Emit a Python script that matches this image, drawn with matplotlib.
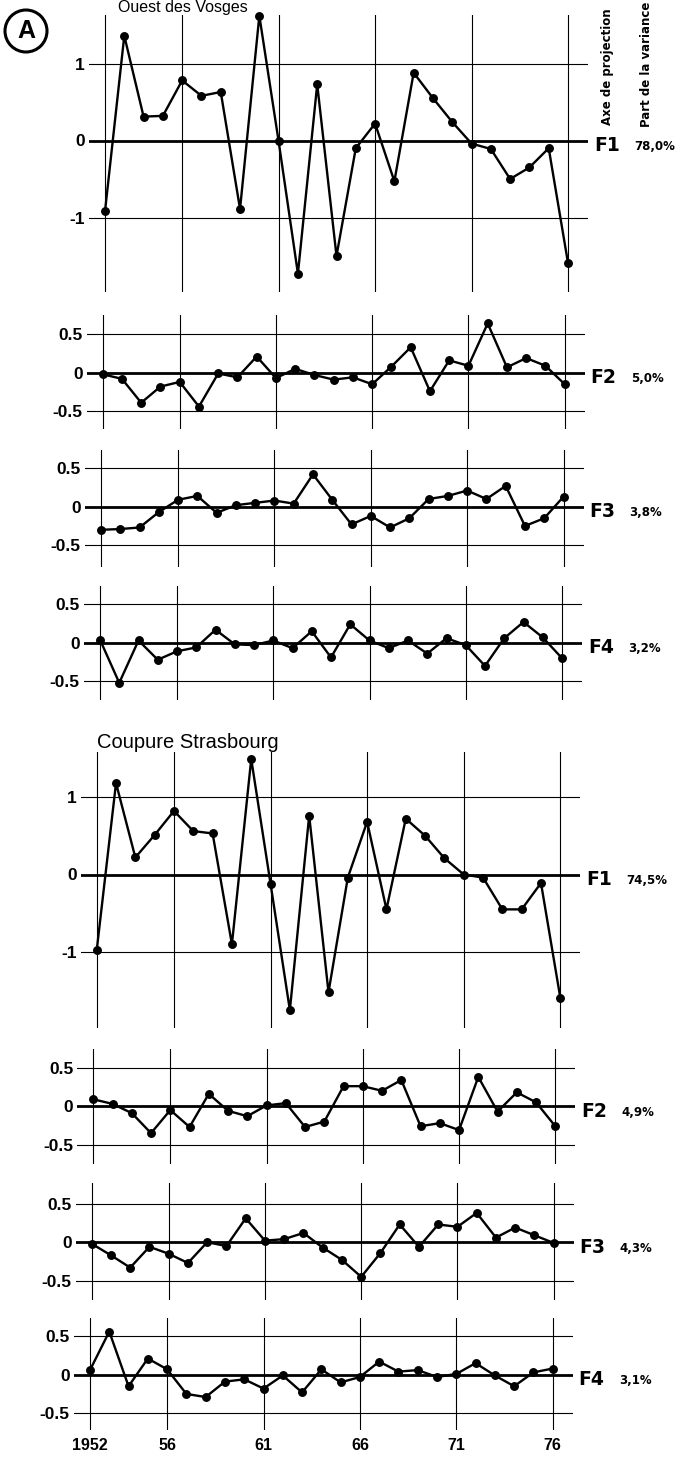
import matplotlib
matplotlib.use('Agg')
import matplotlib.pyplot as plt
from matplotlib.patches import Ellipse
from matplotlib import font_manager

# ---------------- data ----------------
years = list(range(1952, 1977))
grid_years = [1952, 1956, 1961, 1966, 1971, 1976]
year_labels = ['1952', '56', '61', '66', '71', '76']

ouest_f1 = [-0.92, 1.36, 0.31, 0.32, 0.78, 0.58, 0.63, -0.89, 1.62, -0.01, -1.73, 0.73, -1.50,
            -0.10, 0.22, -0.53, 0.88, 0.55, 0.24, -0.04, -0.11, -0.50, -0.35, -0.10, -1.59]
ouest_f2 = [-0.02, -0.08, -0.39, -0.18, -0.12, -0.44, -0.01, -0.06, 0.21, -0.07, 0.05, -0.03, -0.09,
            -0.06, -0.15, 0.08, 0.33, -0.24, 0.16, 0.09, 0.64, 0.07, 0.19, 0.09, -0.15]
ouest_f3 = [-0.30, -0.29, -0.27, -0.07, 0.09, 0.14, -0.08, 0.02, 0.05, 0.08, 0.04, 0.42, 0.09,
            -0.23, -0.12, -0.27, -0.15, 0.10, 0.14, 0.21, 0.10, 0.27, -0.25, -0.15, 0.13]
ouest_f4 = [0.04, -0.52, 0.03, -0.22, -0.11, -0.06, 0.17, -0.02, -0.03, 0.03, -0.07, 0.15, -0.19,
            0.24, 0.03, -0.07, 0.03, -0.14, 0.06, -0.03, -0.30, 0.06, 0.27, 0.07, -0.20]

stras_f1 = [-0.98, 1.18, 0.22, 0.51, 0.82, 0.56, 0.53, -0.90, 1.49, -0.12, -1.75, 0.76, -1.52,
            -0.04, 0.68, -0.45, 0.72, 0.50, 0.21, 0.00, -0.04, -0.45, -0.45, -0.11, -1.59]
stras_f2 = [0.09, 0.03, -0.09, -0.35, -0.05, -0.27, 0.16, -0.06, -0.13, 0.01, 0.04, -0.27, -0.20,
            0.26, 0.26, 0.20, 0.34, -0.26, -0.22, -0.31, 0.38, -0.07, 0.18, 0.05, -0.26]
stras_f3 = [-0.02, -0.17, -0.33, -0.06, -0.15, -0.27, 0.00, -0.05, 0.31, 0.02, 0.04, 0.12, -0.07,
            -0.23, -0.45, -0.14, 0.23, -0.06, 0.23, 0.20, 0.38, 0.06, 0.19, 0.09, -0.01]
stras_f4 = [0.06, 0.56, -0.15, 0.21, 0.07, -0.25, -0.29, -0.09, -0.06, -0.18, -0.01, -0.23, 0.07,
            -0.10, -0.03, 0.17, 0.04, 0.06, -0.03, 0.01, 0.15, -0.01, -0.15, 0.03, 0.08]

axis_names = ['F1', 'F2', 'F3', 'F4', 'F1', 'F2', 'F3', 'F4']
variance = ['78,0%', '5,0%', '3,8%', '3,2%', '74,5%', '4,9%', '4,3%', '3,1%']
big_ticks = [1, 0, -1]
big_tick_labels = ['1', '0', '-1']
small_ticks = [0.5, 0, -0.5]
small_tick_labels = ['0.5', '0', '-0.5']

series = [ouest_f1, ouest_f2, ouest_f3, ouest_f4, stras_f1, stras_f2, stras_f3, stras_f4]

# ---------------- layout (pixels) ----------------
W, H = 682, 1457
# x of 1952 line, x of 1976 line, y of zero, top, bottom of vertical lines, px per unit
geom = [
    (105.0, 568.0, 140.5, 15.0, 292.0, 77.0),
    (102.7, 564.7, 372.7, 315.3, 429.2, 77.0),
    (101.0, 563.5, 506.7, 450.0, 566.7, 77.0),
    (100.0, 562.0, 642.8, 585.7, 700.0, 77.0),
    (96.7, 560.3, 874.5, 751.7, 1027.5, 77.5),
    (93.3, 555.3, 1106.2, 1049.0, 1164.0, 77.0),
    (91.7, 553.7, 1242.2, 1183.3, 1299.7, 77.0),
    (90.0, 552.7, 1374.7, 1318.3, 1430.0, 77.0),
]

names = {f.name for f in font_manager.fontManager.ttflist}
if 'Liberation Sans Narrow' in names:
    narrow = 'Liberation Sans Narrow'
elif 'Liberation Sans' in names:
    narrow = 'Liberation Sans'
else:
    narrow = 'DejaVu Sans'
NARROW = [narrow, 'DejaVu Sans']

fig = plt.figure(figsize=(W / 100, H / 100), dpi=100)
fig.patch.set_facecolor('white')


def fx(x):
    return x / W


def fy(y):
    return 1 - y / H


for i, (vals, (x52, x76, y0, top, bot, s)) in enumerate(zip(series, geom)):
    pxyr = (x76 - x52) / 24.0
    L, R = x52 - 16, x76 + 20
    ax = fig.add_axes([fx(L), fy(bot), (R - L) / W, (bot - top) / H])
    ax.set_xlim(1952 - 16 / pxyr, 1976 + 20 / pxyr)
    ax.set_ylim((y0 - bot) / s, (y0 - top) / s)
    ax.set_facecolor('none')
    for sp in ax.spines.values():
        sp.set_visible(False)
    if i in (0, 4):
        ticks, labels = big_ticks, big_tick_labels
    else:
        ticks, labels = small_ticks, small_tick_labels
    for v in ticks:
        ax.axhline(v, color='black', lw=2.0 if v == 0 else 0.8, zorder=1)
    for yr in grid_years:
        ax.axvline(yr, color='black', lw=0.8, zorder=1)
    ax.plot(years, vals, '-o', color='black', lw=1.7, ms=5.4, clip_on=False, zorder=3)
    ax.set_yticks(ticks)
    ax.set_yticklabels(labels, family=NARROW, weight='bold', fontsize=12.5)
    ax.tick_params(axis='y', length=0, pad=3)
    if i == 7:
        ax.set_xticks(grid_years)
        ax.set_xticklabels(year_labels, family=NARROW, weight='bold', fontsize=11.5)
        ax.tick_params(axis='x', length=0, pad=6)
    else:
        ax.set_xticks([])
    # axis name and share of variance
    fig.text(fx(x76 + 26), fy(y0 + 5), axis_names[i], ha='left', va='center',
             fontsize=13.5, weight='bold', family='DejaVu Sans')
    fig.text(fx(x76 + 66), fy(y0 + 6), variance[i], ha='left', va='center',
             fontsize=8.5, weight='bold', family='DejaVu Sans')

# titles
fig.text(fx(183), fy(0), 'Ouest des Vosges', ha='center', va='top',
         fontsize=11.5, family=NARROW)
fig.text(fx(97), fy(742), 'Coupure Strasbourg', ha='left', va='center',
         fontsize=14.5, family=NARROW)

# rotated column headers
fig.text(fx(607), fy(125), 'Axe de projection', rotation=90, ha='center', va='bottom',
         fontsize=8.5, weight='bold', family='DejaVu Sans')
fig.text(fx(646), fy(127), 'Part de la variance', rotation=90, ha='center', va='bottom',
         fontsize=8.5, weight='bold', family='DejaVu Sans')

# circled A
fig.patches.append(Ellipse((fx(26), fy(31)), 42 / W, 42 / H, transform=fig.transFigure,
                           fill=False, edgecolor='black', lw=2.2))
fig.text(fx(26), fy(31), 'A', ha='center', va='center', fontsize=18, weight='bold',
         family=NARROW)

fig.savefig('out.png', dpi=100, facecolor='white')
